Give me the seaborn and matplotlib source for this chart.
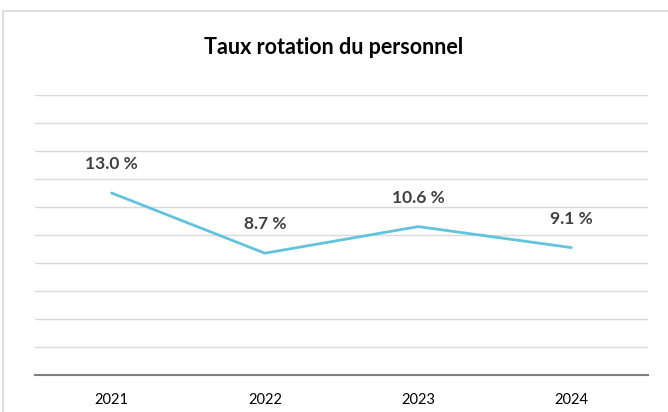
import matplotlib
matplotlib.use("Agg")
import matplotlib.pyplot as plt
import seaborn as sns
import pandas as pd
from matplotlib.patches import Rectangle

years = ["2021", "2022", "2023", "2024"]
rates = [13.0, 8.7, 10.6, 9.1]
title = "Taux rotation du personnel"

sns.set_theme(style="white")
plt.rcParams['font.family'] = ['Lato', 'DejaVu Sans']

df = pd.DataFrame({"year": years, "rate": rates})

fig = plt.figure(figsize=(6.68, 4.12), dpi=100)
ax = fig.add_axes([35/668, 1-375/412, (648-35)/668, (375-95)/412])

sns.lineplot(data=df, x="year", y="rate", ax=ax, color="#62C3DD", linewidth=2, sort=False)

ax.set_ylim(0, 20)
ax.set_xlim(-0.5, len(years) - 0.5)
ax.set_yticks(range(0, 21, 2))
ax.yaxis.grid(True, color="#D9D9D9", linewidth=1)
ax.xaxis.grid(False)
ax.tick_params(axis="y", left=False, labelleft=False)
ax.tick_params(axis="x", bottom=False, labelsize=10.5, colors="#000000", pad=7)
ax.set_xlabel("")
ax.set_ylabel("")
for s in ["top", "left", "right"]:
    ax.spines[s].set_visible(False)
ax.spines["bottom"].set_color("#7F7F7F")
ax.spines["bottom"].set_linewidth(1.5)

for i, v in enumerate(rates):
    ax.annotate(f"{v:.1f} %", (i, v), xytext=(0, 15), textcoords="offset points",
                ha="center", va="bottom", fontsize=12.5, fontweight="bold", color="#404040")

fig.text(0.5, 1 - 47/412, title, ha="center", va="center", fontsize=15.5,
         fontweight="bold", color="#000000")

fig.patches.append(Rectangle((3/668, -0.05), 1.0, 1 - 10.5/412 + 0.05, transform=fig.transFigure,
                             fill=False, edgecolor="#D9D9D9", linewidth=1.2, zorder=-1))

fig.savefig("out.png", dpi=100, facecolor="white")
